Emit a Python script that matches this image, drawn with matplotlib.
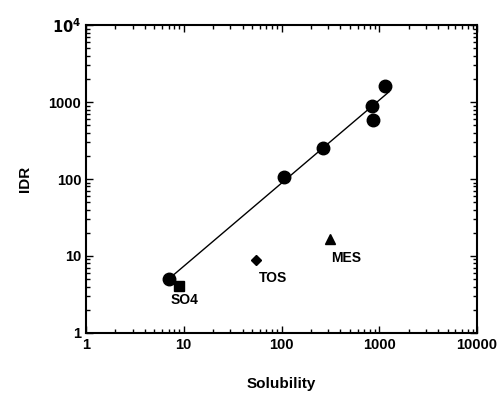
import matplotlib
matplotlib.use('Agg')
import matplotlib.pyplot as plt
import numpy as np

plt.rcParams['font.family'] = ['Liberation Sans', 'DejaVu Sans']
plt.rcParams['font.weight'] = 'bold'

# datos
sol_circ = [7, 105, 265, 850, 860, 1150]
idr_circ = [5, 105, 255, 880, 590, 1600]
sol_so4, idr_so4 = [9], [4.1]
sol_tos, idr_tos = [55], [8.8]
sol_mes, idr_mes = [315], [16.5]

# recta de ajuste (extremos)
fit_x = [7, 1250]
fit_y = [5.0, 1350]

xticks = [1, 10, 100, 1000, 10000]
xtick_labels = ['1', '10', '100', '1000', '10000']
yticks = [1, 10, 100, 1000, 10000]
ytick_labels = ['1', '10', '100', '1000', r'$\mathbf{10^4}$']

fig = plt.figure(figsize=(5, 3.93), dpi=100)
ax = fig.add_axes([0.172, 0.153, 0.782, 0.783])

ax.plot(fit_x, fit_y, color='black', lw=1)
ax.plot(sol_circ, idr_circ, 'o', color='black', ms=9)
ax.plot(sol_so4, idr_so4, 's', color='black', ms=7)
ax.plot(sol_tos, idr_tos, 'D', color='black', ms=5.5)
ax.plot(sol_mes, idr_mes, '^', color='black', ms=6.5)

ax.text(7.3, 2.7, 'SO4', fontsize=10, fontweight='bold', ha='left', va='center')
ax.text(59, 5.2, 'TOS', fontsize=10, fontweight='bold', ha='left', va='center')
ax.text(320, 9.4, 'MES', fontsize=10, fontweight='bold', ha='left', va='center')

ax.set_xscale('log')
ax.set_yscale('log')
ax.set_xlim(1, 10000)
ax.set_ylim(1, 10000)
ax.set_xticks(xticks)
ax.set_xticklabels(xtick_labels)
ax.set_yticks(yticks)
ax.set_yticklabels(ytick_labels)

ax.tick_params(which='both', direction='in', top=True, right=True, labelsize=10.5, width=1)
ax.tick_params(which='major', length=5)
ax.tick_params(which='minor', length=3)
for s in ax.spines.values():
    s.set_linewidth(1.5)

ax.set_xlabel('Solubility', fontsize=11, fontweight='bold', labelpad=18)
ax.set_ylabel('IDR', fontsize=11, fontweight='bold', labelpad=12)

plt.savefig('out.png', dpi=100)
